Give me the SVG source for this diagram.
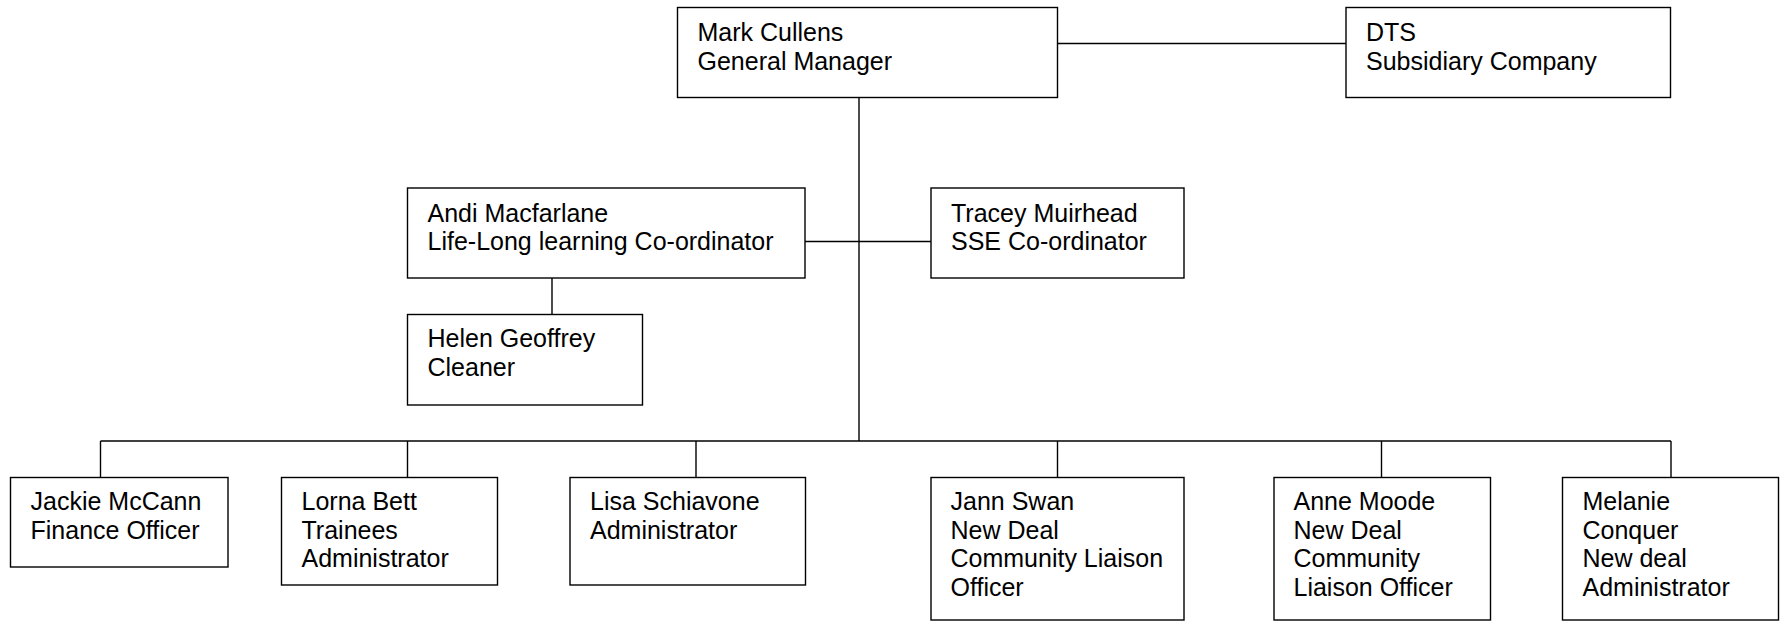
<svg xmlns="http://www.w3.org/2000/svg" width="1780" height="621" viewBox="0 0 1780 621">
<style>
.box{fill:#fff;stroke:#000;stroke-width:1.4}
.ln{fill:none;stroke:#000;stroke-width:1.4}
text{font-family:"Liberation Sans",Arial,sans-serif;font-size:25px;fill:#000}
</style>
<rect width="1780" height="621" fill="#fff"/>
<g id="connectors">
<line class="ln" x1="1057" y1="43.5" x2="1346" y2="43.5"/>
<line class="ln" x1="859" y1="97.5" x2="859" y2="441"/>
<line class="ln" x1="805" y1="241.5" x2="931" y2="241.5"/>
<line class="ln" x1="552" y1="278" x2="552" y2="314"/>
<line class="ln" x1="100.5" y1="441" x2="1671" y2="441"/>
<line class="ln" x1="100.5" y1="441" x2="100.5" y2="477"/>
<line class="ln" x1="407.5" y1="441" x2="407.5" y2="477"/>
<line class="ln" x1="696" y1="441" x2="696" y2="477"/>
<line class="ln" x1="1057.5" y1="441" x2="1057.5" y2="477"/>
<line class="ln" x1="1381.5" y1="441" x2="1381.5" y2="477"/>
<line class="ln" x1="1671" y1="441" x2="1671" y2="477"/>
</g>
<g id="mark">
<rect class="box" x="677.5" y="7.5" width="380" height="90"/>
<text x="697.5" y="41">Mark Cullens</text>
<text x="697.5" y="69.7">General Manager</text>
</g>
<g id="dts">
<rect class="box" x="1346" y="7.5" width="324.5" height="90"/>
<text x="1366" y="41">DTS</text>
<text x="1366" y="69.7">Subsidiary Company</text>
</g>
<g id="andi">
<rect class="box" x="407.5" y="188" width="397.5" height="90"/>
<text x="427.5" y="221.5">Andi Macfarlane</text>
<text x="427.5" y="250.2">Life-Long learning Co-ordinator</text>
</g>
<g id="tracey">
<rect class="box" x="931" y="188" width="253" height="90"/>
<text x="951" y="221.5">Tracey Muirhead</text>
<text x="951" y="250.2">SSE Co-ordinator</text>
</g>
<g id="helen">
<rect class="box" x="407.5" y="314.5" width="235" height="90.5"/>
<text x="427.5" y="347">Helen Geoffrey</text>
<text x="427.5" y="375.7">Cleaner</text>
</g>
<g id="jackie">
<rect class="box" x="10.5" y="477.5" width="217.5" height="89.5"/>
<text x="30.5" y="510">Jackie McCann</text>
<text x="30.5" y="538.7">Finance Officer</text>
</g>
<g id="lorna">
<rect class="box" x="281.5" y="477.5" width="216" height="107.5"/>
<text x="301.5" y="510">Lorna Bett</text>
<text x="301.5" y="538.7">Trainees</text>
<text x="301.5" y="567.4">Administrator</text>
</g>
<g id="lisa">
<rect class="box" x="570" y="477.5" width="235.5" height="107.5"/>
<text x="590" y="510">Lisa Schiavone</text>
<text x="590" y="538.7">Administrator</text>
</g>
<g id="jann">
<rect class="box" x="931" y="477.5" width="253" height="142.5"/>
<text x="950.5" y="510">Jann Swan</text>
<text x="950.5" y="538.7">New Deal</text>
<text x="950.5" y="567.4">Community Liaison</text>
<text x="950.5" y="596.1">Officer</text>
</g>
<g id="anne">
<rect class="box" x="1274" y="477.5" width="216.5" height="142.5"/>
<text x="1293.5" y="510">Anne Moode</text>
<text x="1293.5" y="538.7">New Deal</text>
<text x="1293.5" y="567.4">Community</text>
<text x="1293.5" y="596.1">Liaison Officer</text>
</g>
<g id="melanie">
<rect class="box" x="1562.5" y="477.5" width="216" height="142.5"/>
<text x="1582.5" y="510">Melanie</text>
<text x="1582.5" y="538.7">Conquer</text>
<text x="1582.5" y="567.4">New deal</text>
<text x="1582.5" y="596.1">Administrator</text>
</g>
</svg>
